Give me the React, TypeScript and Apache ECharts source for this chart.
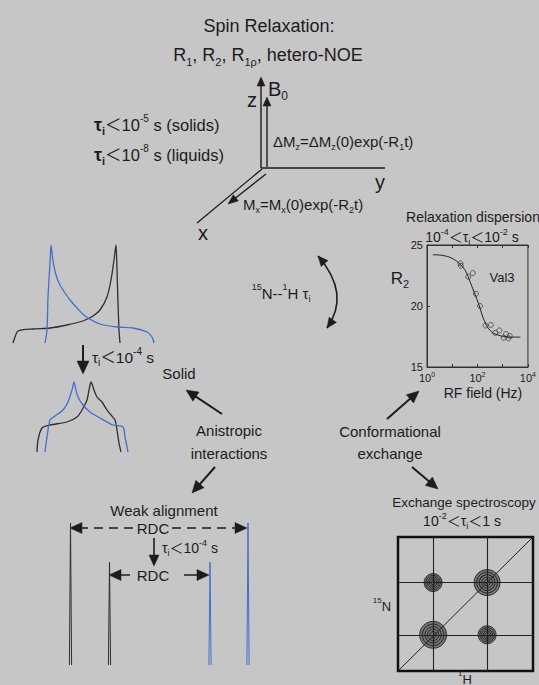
import React, { useEffect, useRef } from 'react';
import * as echarts from 'echarts';

const W = 539;
const H = 685;
const BG = '#c6c6c6';
const INK = '#1c1c1c';
const BLUE = '#3f6fd2';
const SPEC_BLACK = '#2e2e2e';
const FONT = '"Liberation Sans", Arial, Helvetica, "Noto Sans CJK SC", sans-serif';
const LT = '\uFF1C'; // wide "less than" sign as in the figure

// ---- Relaxation dispersion (Val3) ----
const dispFieldHz = [21, 22, 43, 65, 87, 126, 209, 339, 501, 741, 1096, 1349, 1698, 1905];
const dispR2 = [23.5, 23.3, 22.4, 22.7, 21.0, 20.0, 18.4, 18.45, 17.8, 18.0, 17.4, 17.7, 17.35, 17.55];
const fitFieldHz = [1.7, 4, 10, 21, 35, 60, 110, 195, 355, 850, 2000, 5000];
const fitR2 = [24.2, 24.15, 23.9, 23.4, 22.8, 21.6, 20.2, 18.7, 17.9, 17.55, 17.45, 17.45];
const r2Min = 15;
const r2Max = 25;
const r2Step = 5;
const fieldMin = 1;
const fieldMax = 10000;

// ---- Exchange spectroscopy ----
const peakH = [26, 66, 26, 66];
const peakN = [66, 66, 27, 27];
const peakDiam = [18, 26, 27, 18];
const gridLinesH = [26, 66];
const gridLinesN = [27, 66];
const diagonal = [[0, 0], [100, 100]];
const ringFractions = [1, 0.8, 0.6, 0.42, 0.24];

// ---- Solid-state powder patterns (arbitrary frequency / intensity) ----
const staticBlackX = [13, 15, 18, 33, 50, 67, 83, 93, 100, 107, 111, 114, 116, 117, 118, 119, 120];
const staticBlackY = [0, 6, 12, 14, 15, 18, 22, 27, 33, 46, 63, 83, 98, 73, 40, 13, 0];
const staticBlueX = [45, 47, 48, 50, 51, 53, 56, 60, 65, 70, 77, 85, 100, 117, 133, 147, 152, 154];
const staticBlueY = [0, 13, 46, 80, 98, 82, 68, 58, 50, 43, 35, 27, 19, 16, 15, 11, 6, 0];
const avgBlackX = [37, 38, 42, 50, 67, 77, 82, 87, 89, 91, 94, 97, 102, 107, 111, 115, 117, 119, 121];
const avgBlackY = [0, 12, 24, 27, 30, 35, 42, 52, 62, 70, 62, 55, 50, 42, 37, 32, 22, 9, 0];
const avgBlueX = [45, 47, 50, 55, 63, 68, 72, 74, 76, 78, 83, 90, 100, 113, 123, 125, 127, 128];
const avgBlueY = [0, 15, 32, 36, 42, 50, 62, 70, 62, 55, 47, 40, 34, 27, 25, 15, 5, 0];

// ---- Weak alignment: RDC doublet lines ----
const rdcBlackPos = [70.5, 109.5];
const rdcBlackHeight = [142, 103];
const rdcBluePos = [210, 248];
const rdcBlueHeight = [103, 142];

function rich(size: number) {
  const s = Math.round(size * 0.62);
  return {
    sub: { fontSize: s, lineHeight: s, verticalAlign: 'bottom', fontFamily: FONT, fill: INK, color: INK },
    bsub: { fontSize: s + 1, lineHeight: s + 1, fontWeight: 'bold', verticalAlign: 'bottom', fontFamily: FONT, fill: INK, color: INK },
    sup: { fontSize: s, lineHeight: Math.round(size * 0.85), verticalAlign: 'top', fontFamily: FONT, fill: INK, color: INK },
    tau: { fontSize: Math.round(size * 1.08), fontWeight: 'bold', fontFamily: FONT, fill: INK, color: INK },
  };
}

function T(x: number, y: number, text: string, size: number, align = 'center') {
  return {
    type: 'text',
    x,
    y,
    silent: true,
    style: {
      text,
      fontSize: size,
      fontFamily: FONT,
      fill: INK,
      lineHeight: size + 6,
      align,
      verticalAlign: 'middle',
      textAlign: align,
      textVerticalAlign: 'middle',
      rich: rich(size),
    },
  };
}

function head(tx: number, ty: number, ux: number, uy: number, len: number, hw: number) {
  const bx = tx - ux * len;
  const by = ty - uy * len;
  const px = -uy;
  const py = ux;
  return {
    type: 'polygon',
    silent: true,
    shape: { points: [[tx, ty], [bx + px * hw, by + py * hw], [bx - px * hw, by - py * hw]] },
    style: { fill: INK, stroke: INK, lineWidth: 0.5 },
  };
}

function arrow(x1: number, y1: number, x2: number, y2: number, lw = 1.8, len = 11, hw = 5, dash?: number[]) {
  const dx = x2 - x1;
  const dy = y2 - y1;
  const L = Math.hypot(dx, dy);
  const ux = dx / L;
  const uy = dy / L;
  return [
    {
      type: 'line',
      silent: true,
      shape: { x1, y1, x2: x2 - ux * len * 0.8, y2: y2 - uy * len * 0.8 },
      style: { stroke: INK, lineWidth: lw, lineDash: dash },
    },
    head(x2, y2, ux, uy, len, hw),
  ];
}

function seg(x1: number, y1: number, x2: number, y2: number, lw = 1.3, dash?: number[]) {
  return { type: 'line', silent: true, shape: { x1, y1, x2, y2 }, style: { stroke: INK, lineWidth: lw, lineDash: dash } };
}

function curvedDoubleArrow() {
  const p0 = [318, 256];
  const c = [351, 294];
  const p2 = [327, 328];
  const u0 = [p0[0] - c[0], p0[1] - c[1]];
  const l0 = Math.hypot(u0[0], u0[1]);
  const u2 = [p2[0] - c[0], p2[1] - c[1]];
  const l2 = Math.hypot(u2[0], u2[1]);
  return [
    {
      type: 'bezierCurve',
      silent: true,
      shape: { x1: p0[0], y1: p0[1], x2: p2[0], y2: p2[1], cpx1: c[0], cpy1: c[1] },
      style: { stroke: INK, lineWidth: 1.6, fill: 'none' },
    },
    head(p0[0], p0[1], u0[0] / l0, u0[1] / l0, 10, 4.5),
    head(p2[0], p2[1], u2[0] / l2, u2[1] / l2, 10, 4.5),
  ];
}

function pairs(xs: number[], ys: number[]) {
  return xs.map((x, i) => [x, ys[i]]);
}

function specSeries(xs: number[], ys: number[], color: string, gi: number) {
  return {
    type: 'line',
    xAxisIndex: gi,
    yAxisIndex: gi - 1,
    data: pairs(xs, ys),
    showSymbol: false,
    smooth: 0.25,
    silent: true,
    lineStyle: { color, width: 1.3 },
  };
}

function stickSeries(pos: number, h: number, color: string) {
  return {
    type: 'line',
    xAxisIndex: 5,
    yAxisIndex: 4,
    data: [[pos - 1.1, 0], [pos, h], [pos + 1.1, 0]],
    showSymbol: false,
    silent: true,
    lineStyle: { color, width: 1 },
  };
}

export default function App() {
  const ref = useRef<HTMLDivElement>(null);

  useEffect(() => {
    if (!ref.current) return;
    const chart = echarts.init(ref.current, undefined, { renderer: 'svg' });

    const logLabelRich = {
      b: { fontSize: 11, lineHeight: 14, fontFamily: FONT, color: INK },
      s: { fontSize: 7, lineHeight: 9, verticalAlign: 'top', fontFamily: FONT, color: INK },
    };

    const hiddenAxis = (gi: number, max: number) => ({ gridIndex: gi, type: 'value', min: 0, max, show: false });

    const graphic: any[] = [
      // titles
      T(269, 26, 'Spin Relaxation:', 18),
      T(268, 55, 'R{sub|1}, R{sub|2}, R{sub|1ρ}, hetero-NOE', 18),
      // lab frame
      ...arrow(261, 168, 261, 77, 1.4, 9, 4),
      ...arrow(267, 167, 267, 97, 1.4, 9, 4),
      seg(261, 168, 385, 168, 1.3),
      seg(262, 169, 197, 223, 1.3),
      ...arrow(266, 174, 228, 204, 1.4, 10, 4),
      T(252, 100, 'z', 20),
      T(268, 89, 'B{sub|0}', 20, 'left'),
      T(380, 182, 'y', 20),
      T(203, 233, 'x', 20),
      T(273, 141, 'ΔM{sub|z}=ΔM{sub|z}(0)exp(-R{sub|1}t)', 15, 'left'),
      T(243, 204, 'M{sub|x}=M{sub|x}(0)exp(-R{sub|2}t)', 15, 'left'),
      T(94, 125, `{tau|τ}{bsub|i}${LT}10{sup|-5} s (solids)`, 16.5, 'left'),
      T(94, 155, `{tau|τ}{bsub|i}${LT}10{sup|-8} s (liquids)`, 16.5, 'left'),
      // relaxation dispersion
      T(473, 217, 'Relaxation dispersion', 14),
      T(472, 237, `10{sup|-4}${LT}τ{sub|i}${LT}10{sup|-2} s`, 14),
      T(400, 278, 'R{sub|2}', 17),
      T(502, 277, 'Val3', 13),
      T(483, 393, 'RF field (Hz)', 14),
      // 15N-1H vector motion
      T(281, 293, '{sup|15}N--{sup|1}H τ{sub|i}', 15),
      ...curvedDoubleArrow(),
      // solid state
      ...arrow(83, 345, 83, 374, 2, 13, 6),
      T(92, 357, `τ{sub|i}${LT}10{sup|-4} s`, 15.5, 'left'),
      T(179, 373, 'Solid', 15),
      // centre labels
      T(229, 430, 'Anistropic', 15),
      T(229, 453, 'interactions', 15),
      ...arrow(222, 414, 186, 390, 2, 12, 5.5),
      ...arrow(215, 467, 192, 493, 2, 12, 5.5),
      T(390, 431, 'Conformational', 15),
      T(390, 453, 'exchange', 15),
      ...arrow(387, 419, 419, 391, 2, 12, 5.5),
      ...arrow(412, 467, 438, 489, 2, 12, 5.5),
      // exchange spectroscopy
      T(464, 502, 'Exchange spectroscopy', 13.5),
      T(462, 521, `10{sup|-2}${LT}τ{sub|i}${LT}1 s`, 14),
      T(382, 606, '{sup|15}N', 13),
      T(465, 679, '{sup|1}H', 13),
      // weak alignment
      T(164, 510, 'Weak alignment', 15),
      T(153, 528, 'RDC', 15),
      ...arrow(133, 528, 70, 528, 1.5, 12, 5.5, [9, 6]),
      ...arrow(172, 528, 247, 528, 1.5, 12, 5.5, [9, 6]),
      ...arrow(154, 538, 154, 566, 1.6, 11, 5),
      T(162, 548, `τ{sub|i}${LT}10{sup|-4} s`, 14, 'left'),
      T(153, 575, 'RDC', 15),
      ...arrow(130, 575, 109, 575, 1.5, 12, 5.5),
      ...arrow(184, 575, 209, 575, 1.5, 12, 5.5),
    ];

    const peakData = peakH.map((h, i) => [h, peakN[i], peakDiam[i]]);

    const option: any = {
      animation: false,
      backgroundColor: BG,
      textStyle: { fontFamily: FONT },
      grid: [
        { left: 427, top: 245, width: 104, height: 122, show: true, borderColor: '#333', borderWidth: 1, backgroundColor: 'transparent' },
        { left: 398, top: 537, width: 135, height: 134, show: true, borderColor: '#111', borderWidth: 2.5, backgroundColor: 'transparent' },
        { left: 0, top: 243, width: 170, height: 100 },
        { left: 0, top: 352, width: 170, height: 100 },
        { left: 0, top: 515, width: 270, height: 150 },
      ],
      xAxis: [
        {
          gridIndex: 0,
          type: 'log',
          logBase: 10,
          min: fieldMin,
          max: fieldMax,
          axisLine: { show: true, lineStyle: { color: '#333', width: 1 } },
          axisTick: { show: true, inside: true, length: 3, lineStyle: { color: '#333' } },
          axisLabel: {
            margin: 4,
            formatter: (v: number) => {
              const e = Math.round(Math.log10(v));
              return e % 2 === 0 ? `{b|10}{s|${e}}` : '';
            },
            rich: logLabelRich,
          },
          splitLine: { show: false },
          minorTick: { show: false },
        },
        {
          gridIndex: 0,
          type: 'log',
          logBase: 10,
          min: fieldMin,
          max: fieldMax,
          position: 'top',
          axisLine: { show: true, lineStyle: { color: '#333', width: 1 } },
          axisTick: { show: true, inside: true, length: 3, lineStyle: { color: '#333' } },
          axisLabel: { show: false },
          splitLine: { show: false },
        },
        hiddenAxis(1, 100),
        hiddenAxis(2, 170),
        hiddenAxis(3, 170),
        hiddenAxis(4, 270),
      ],
      yAxis: [
        {
          gridIndex: 0,
          type: 'value',
          min: r2Min,
          max: r2Max,
          interval: r2Step,
          axisLine: { show: true, lineStyle: { color: '#333', width: 1 } },
          axisTick: { show: true, inside: true, length: 3, lineStyle: { color: '#333' } },
          axisLabel: { fontSize: 11, color: INK, margin: 4, fontFamily: FONT },
          splitLine: { show: false },
        },
        hiddenAxis(1, 100),
        hiddenAxis(2, 100),
        hiddenAxis(3, 100),
        hiddenAxis(4, 150),
      ],
      series: [
        {
          type: 'line',
          xAxisIndex: 0,
          yAxisIndex: 0,
          data: pairs(fitFieldHz, fitR2),
          smooth: 0.4,
          showSymbol: false,
          silent: true,
          lineStyle: { color: '#222', width: 1 },
        },
        {
          type: 'scatter',
          xAxisIndex: 0,
          yAxisIndex: 0,
          data: pairs(dispFieldHz, dispR2),
          symbol: 'circle',
          symbolSize: 5,
          silent: true,
          itemStyle: { color: 'rgba(0,0,0,0)', borderColor: '#222', borderWidth: 0.8 },
        },
        {
          type: 'line',
          xAxisIndex: 2,
          yAxisIndex: 1,
          data: diagonal,
          showSymbol: false,
          silent: true,
          lineStyle: { color: '#222', width: 1 },
          markLine: {
            silent: true,
            symbol: ['none', 'none'],
            label: { show: false },
            lineStyle: { color: '#222', width: 1.1, type: 'solid' },
            data: [
              ...gridLinesH.map((v) => ({ xAxis: v })),
              ...gridLinesN.map((v) => ({ yAxis: v })),
            ],
          },
        },
        {
          type: 'scatter',
          xAxisIndex: 2,
          yAxisIndex: 1,
          data: peakData,
          symbol: 'circle',
          symbolSize: (v: number[]) => v[2],
          silent: true,
          itemStyle: { color: 'rgba(45,45,45,0.65)' },
        },
        ...ringFractions.map((fr) => ({
          type: 'scatter',
          xAxisIndex: 2,
          yAxisIndex: 1,
          data: peakData,
          symbol: 'circle',
          symbolSize: (v: number[]) => v[2] * fr,
          silent: true,
          itemStyle: { color: 'rgba(0,0,0,0)', borderColor: '#111', borderWidth: 1 },
        })),
        specSeries(staticBlackX, staticBlackY, SPEC_BLACK, 3),
        specSeries(staticBlueX, staticBlueY, BLUE, 3),
        specSeries(avgBlackX, avgBlackY, SPEC_BLACK, 4),
        specSeries(avgBlueX, avgBlueY, BLUE, 4),
        ...rdcBlackPos.map((p, i) => stickSeries(p, rdcBlackHeight[i], SPEC_BLACK)),
        ...rdcBluePos.map((p, i) => stickSeries(p, rdcBlueHeight[i], BLUE)),
      ],
      graphic,
    };

    chart.setOption(option);
    return () => {
      chart.dispose();
    };
  }, []);

  return (
    <div
      ref={ref}
      style={{ position: 'absolute', left: 0, top: 0, width: W, height: H }}
    />
  );
}
